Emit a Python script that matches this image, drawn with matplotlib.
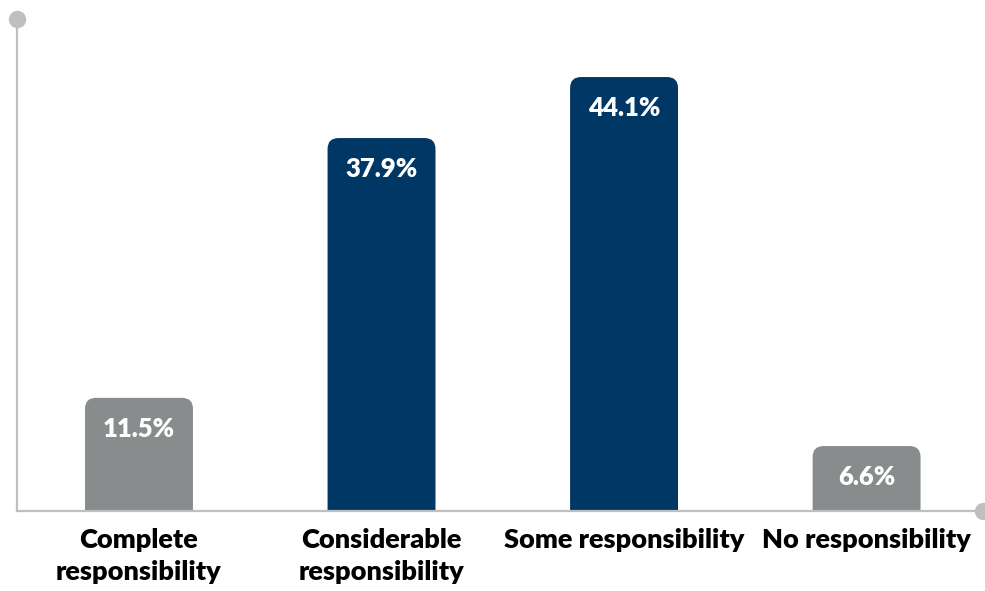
import matplotlib.pyplot as plt
from matplotlib.patches import FancyBboxPatch

categories = ['Complete\nresponsibility', 'Considerable\nresponsibility',
              'Some responsibility', 'No responsibility']
values = [11.5, 37.9, 44.1, 6.6]
colors = ['#898C8D', '#003764', '#003764', '#898C8D']

plt.rcParams['font.family'] = ['Lato', 'DejaVu Sans']

fig = plt.figure(figsize=(9.85, 5.91), dpi=100)
ax = fig.add_axes([17 / 985, 80 / 591, 966 / 985, 492 / 591])

ax.set_xlim(-0.503, 3.48)
ax.set_ylim(0, 50)

width = 0.445
rx = 0.045
aspect = 1.1 / rx

for i, (v, c) in enumerate(zip(values, colors)):
    box = FancyBboxPatch((i - width / 2, -5), width, v + 5,
                         boxstyle='round,pad=0,rounding_size=%f' % rx,
                         mutation_aspect=aspect, fc=c, ec='none')
    ax.add_patch(box)
    ax.annotate('%.1f%%' % v, (i, v), xytext=(0, -31), textcoords='offset pixels',
                ha='center', va='center', color='white', fontsize=18.5,
                fontweight='heavy')

ax.set_xticks(range(len(categories)))
ax.set_xticklabels(categories, fontsize=19.5, fontweight='heavy', linespacing=1.4)
ax.tick_params(axis='x', length=0, pad=12)
ax.set_yticks([])

for s in ['top', 'right']:
    ax.spines[s].set_visible(False)
for s in ['left', 'bottom']:
    ax.spines[s].set_color('#BFBFBF')
    ax.spines[s].set_linewidth(1.6)

ax.plot([0], [1], 'o', color='#BFBFBF', ms=11.5, transform=ax.transAxes, clip_on=False)
ax.plot([1], [0], 'o', color='#BFBFBF', ms=11.5, transform=ax.transAxes, clip_on=False)

fig.savefig('out.png', dpi=100)
